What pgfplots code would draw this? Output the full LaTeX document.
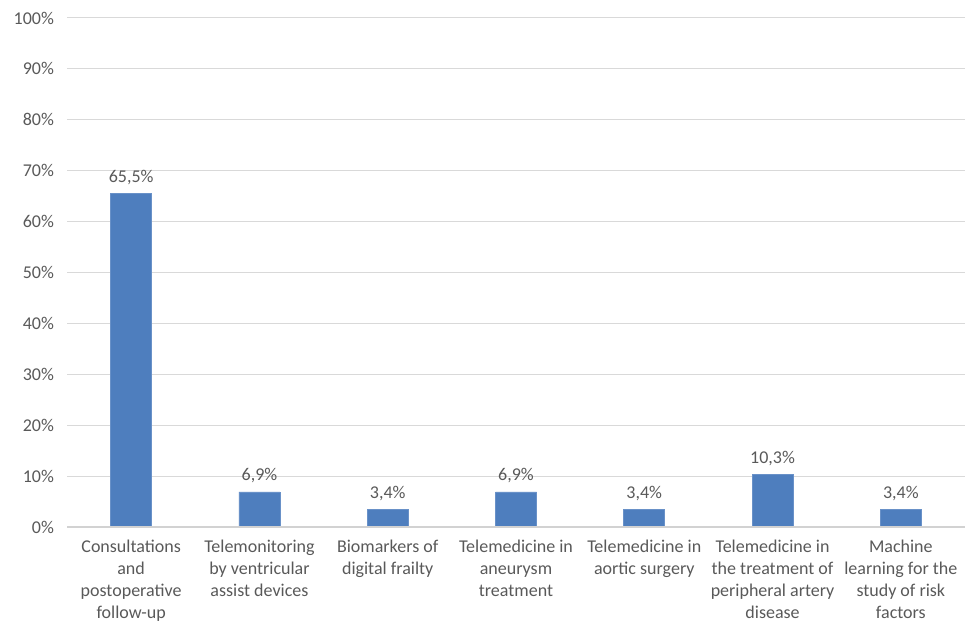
\documentclass[border=0pt]{standalone}
\usepackage{pgfplots}
\pgfplotsset{compat=1.18}
\usepackage{fontspec}
\setmainfont{Carlito}
\definecolor{barblue}{RGB}{78,126,190}
\definecolor{gridgray}{RGB}{217,217,217}
\definecolor{axisgray}{RGB}{210,210,210}
\definecolor{txtgray}{RGB}{89,89,89}
\begin{document}
\begin{tikzpicture}
\begin{axis}[
  name=ax,
  scale only axis=true,
  width=449pt, height=254.5pt,
  xmin=-0.5, xmax=6.5,
  ymin=0, ymax=100,
  ytick={0,10,...,100},
  yticklabel={\pgfmathprintnumber[assume math mode=true]{\tick}\%},
  ymajorgrids=true,
  grid style={gridgray, line width=0.5pt},
  axis line style={draw=none},
  axis x line*=bottom,
  axis y line*=left,
  major tick length=0pt,
  tick style={draw=none},
  xtick={0,...,6},
  xticklabels={
    {Consultations\\and\\postoperative\\follow-up},
    {Telemonitoring\\by ventricular\\assist devices},
    {Biomarkers of\\digital frailty},
    {Telemedicine in\\aneurysm\\treatment},
    {Telemedicine in\\aortic surgery},
    {Telemedicine in\\the treatment of\\peripheral artery\\disease},
    {Machine\\learning for the\\study of risk\\factors}},
  xticklabel style={align=center, text=txtgray, font=\fontsize{9}{11}\selectfont, anchor=north, yshift=-3pt},
  yticklabel style={text=txtgray, font=\fontsize{9}{11}\selectfont, xshift=-3pt},
  ybar, bar width=20.5pt,
  nodes near coords={\pgfmathprintnumber[fixed,fixed zerofill,precision=1,use comma,assume math mode=true]{\pgfplotspointmeta}\%},
  every node near coord/.append style={text=txtgray, font=\fontsize{9}{11}\selectfont, yshift=1pt},
  clip=false,
]
\addplot[fill=barblue, draw=barblue!85!white, line width=0.3pt] coordinates {
  (0,65.5) (1,6.9) (2,3.4) (3,6.9) (4,3.4) (5,10.3) (6,3.4)
};
\draw[axisgray, line width=1.2pt] (axis cs:-0.5,0) -- (axis cs:6.5,0);
\end{axis}
\pgfresetboundingbox
\path ([shift={(-33.5pt,-50pt)}]ax.south west) rectangle ([shift={(1pt,9pt)}]ax.north east);
\end{tikzpicture}
\end{document}
